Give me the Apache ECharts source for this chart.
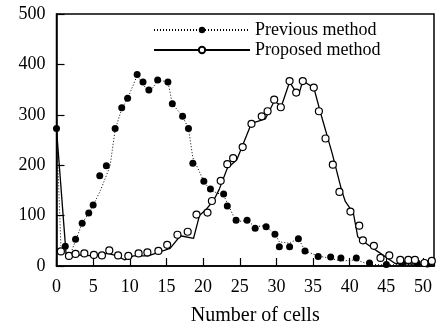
<!DOCTYPE html>
<html>
<head>
<meta charset="utf-8">
<script src="https://cdn.jsdelivr.net/npm/echarts@6/dist/echarts.min.js"></script>
<style>
  html, body { margin: 0; padding: 0; background: #fff; }
  #chart { width: 440px; height: 331px; }
</style>
</head>
<body>
<div id="chart"></div>
<script>
// markers: [number of cells, count]
var prevPoints = [
  [0, 273], [1.2, 39], [2.6, 53], [3.5, 85], [4.4, 105], [5.0, 121], [5.9, 179], [6.8, 199],
  [8.0, 273], [8.9, 314], [9.7, 333], [11.0, 380], [11.8, 365], [12.6, 349], [13.8, 369],
  [15.2, 365], [15.8, 322], [17.2, 297], [18.0, 273], [18.6, 204], [20.1, 168], [21.0, 153],
  [22.8, 143], [23.3, 119], [24.5, 91], [26.0, 91], [27.1, 75], [28.6, 78], [29.8, 63],
  [30.4, 38], [31.8, 38], [33.0, 54], [33.9, 30], [35.7, 19], [37.4, 18], [38.8, 16],
  [40.9, 16], [42.7, 6], [45.0, 3], [47.1, 6], [49.2, 6], [50.6, 4]
]
var propPoints = [
  [0.6, 29], [1.7, 20], [2.6, 24], [3.8, 25], [5.1, 22], [6.2, 21], [7.2, 31], [8.4, 21],
  [9.8, 20], [11.2, 25], [12.4, 27], [13.9, 30], [15.1, 42], [16.5, 62], [17.9, 68],
  [19.1, 102], [20.6, 106], [21.2, 129], [22.4, 169], [23.3, 202], [24.1, 214], [25.4, 236],
  [26.6, 282], [28.0, 297], [28.8, 307], [29.7, 330], [30.6, 315], [31.8, 367], [32.7, 344],
  [33.6, 367], [35.1, 354], [35.8, 307], [36.7, 253], [37.7, 201], [38.6, 147], [40.1, 108],
  [41.3, 80], [41.8, 51], [43.3, 40], [44.2, 16], [45.4, 21], [46.9, 12], [48.0, 12],
  [48.9, 12], [50.2, 6], [51.2, 10]
]
// the two curves
var prevLine = [
  [0, 273], [0.6, 40], [1.6, 12], [2.6, 50], [3.5, 85], [4.4, 105], [5.0, 120], [6.0, 150],
  [7.3, 198], [8.0, 270], [8.9, 312], [9.7, 332], [11.0, 378], [11.8, 362], [12.6, 342],
  [13.8, 368], [15.2, 366], [15.8, 322], [17.2, 297], [18.0, 273], [18.6, 215], [20.1, 168],
  [21.0, 150], [22.8, 140], [23.3, 125], [24.5, 88], [26.0, 90], [27.1, 78], [28.5, 80],
  [29.8, 63], [30.4, 48], [31.8, 45], [33.0, 55], [33.9, 30], [35.7, 20], [37.4, 15],
  [38.8, 10], [40.9, 12], [42.7, 3], [45.0, 2], [47.0, 3], [49.0, 3], [50.6, 4]
]
var propLine = [
  [0, 272], [0.2, 270], [1.3, 25], [1.8, 18], [3.0, 22], [5.0, 20], [7.0, 25], [8.3, 20],
  [9.3, 12], [10.5, 20], [12.5, 20], [15.5, 35], [16.9, 60], [18.7, 55], [19.5, 100],
  [20.4, 112], [21.5, 132], [22.2, 152], [23.3, 194], [24.6, 211], [26.6, 283], [28.5, 292],
  [29.7, 327], [30.7, 318], [31.8, 365], [33.0, 338], [33.6, 367], [35.1, 354], [36.0, 305],
  [37.6, 224], [38.9, 150], [39.4, 128], [40.5, 105], [41.1, 58], [41.9, 48], [44.2, 25],
  [46.2, 5], [51.2, 3]
]
var seriesNames = ['Previous method', 'Proposed method']
var xTicks = [0, 5, 10, 15, 20, 25, 30, 35, 40, 45, 50]

var myChart = echarts.init(document.getElementById('chart'))
var serif = 'Liberation Serif'
var option = {
  animation: false,
  grid: {
    left: 56.5,
    right: 6,
    top: 14,
    bottom: 61.7,
    show: true,
    borderColor: '#000',
    borderWidth: 1.5,
    backgroundColor: 'transparent'
  },
  legend: {
    data: seriesNames,
    orient: 'vertical',
    left: 148,
    top: 16,
    itemWidth: 96,
    itemHeight: 8,
    itemGap: 2,
    textStyle: { fontFamily: serif, fontSize: 18, color: '#000' }
  },
  xAxis: {
    type: 'value',
    min: 0,
    max: 51.5,
    interval: 5,
    name: 'Number of cells',
    nameLocation: 'middle',
    nameGap: 40,
    nameTextStyle: { fontFamily: serif, fontSize: 20, color: '#000', padding: [0, 0, 0, 20] },
    axisLine: { lineStyle: { color: '#000', width: 1.5 } },
    axisTick: { inside: true, length: 8, lineStyle: { color: '#000', width: 1.2 } },
    axisLabel: {
      fontFamily: serif, fontSize: 18, color: '#000', margin: 12,
      formatter: function (v) { return xTicks.indexOf(v) > -1 ? String(v) : '' }
    },
    splitLine: { show: false }
  },
  yAxis: {
    type: 'value',
    min: 0,
    max: 500,
    interval: 100,
    axisLine: { show: true, lineStyle: { color: '#000', width: 1.5 } },
    axisTick: { show: true, inside: true, length: 8, lineStyle: { color: '#000', width: 1.2 } },
    axisLabel: { fontFamily: serif, fontSize: 18, color: '#000', margin: 11 },
    splitLine: { show: false }
  },
  series: [
    {
      name: seriesNames[0],
      type: 'line',
      data: prevLine,
      symbol: 'circle',
      showSymbol: false,
      itemStyle: { color: '#000' },
      lineStyle: { color: '#000', width: 1, type: [1, 2] },
      z: 2
    },
    {
      name: seriesNames[1],
      type: 'line',
      data: propLine,
      symbol: 'circle',
      showSymbol: false,
      itemStyle: { color: '#fff', borderColor: '#000', borderWidth: 1.2 },
      lineStyle: { color: '#000', width: 1.3 },
      z: 2
    },
    {
      name: 'prevPts',
      type: 'scatter',
      data: prevPoints,
      symbol: 'circle',
      symbolSize: 7,
      clip: false,
      itemStyle: { color: '#000', opacity: 1 },
      z: 3
    },
    {
      name: 'propPts',
      type: 'scatter',
      data: propPoints,
      symbol: 'circle',
      symbolSize: 7,
      clip: false,
      itemStyle: { color: '#fff', borderColor: '#000', borderWidth: 1.2, opacity: 1 },
      z: 4
    }
  ]
}
myChart.setOption(option)
</script>
</body>
</html>
